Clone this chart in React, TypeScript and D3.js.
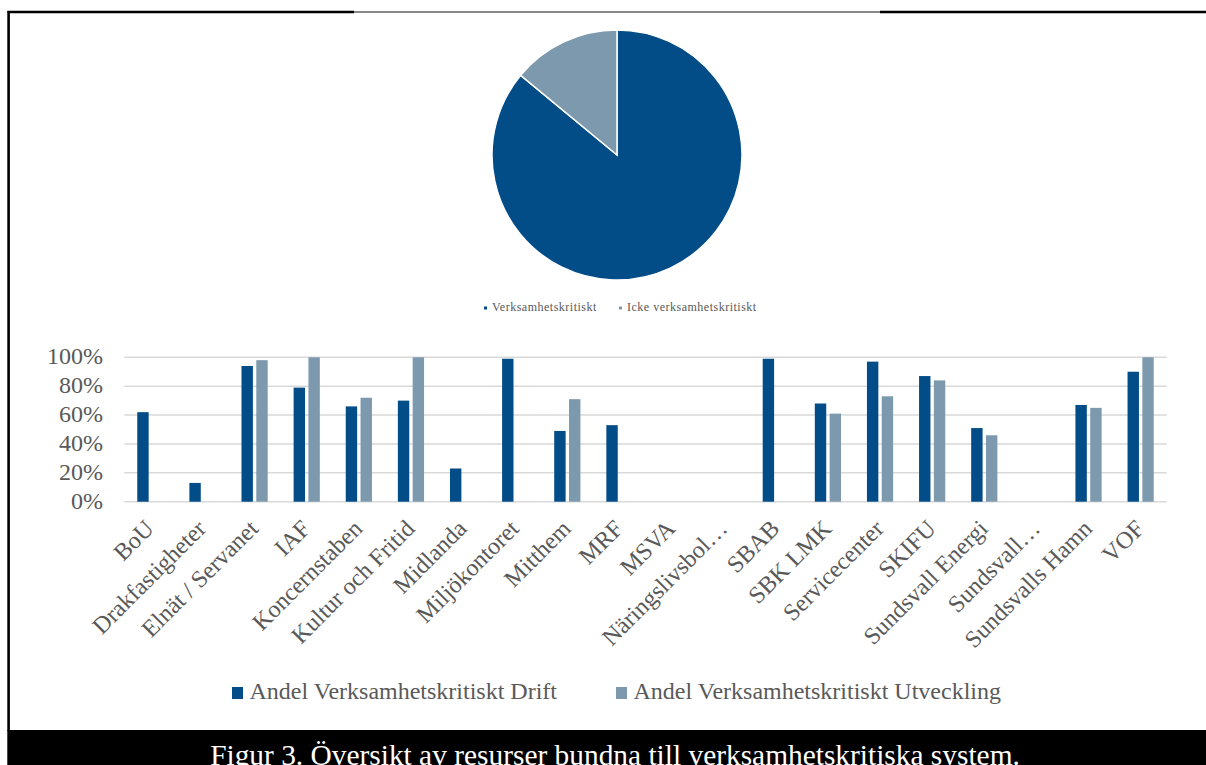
import React from "react";
import * as d3 from "d3";

// Pie: share of systems
const pieLabels = ["Verksamhetskritiskt", "Icke verksamhetskritiskt"];
const pieValues = [86, 14];

// Grouped bars: share per organisation
const categories = [
  "BoU",
  "Drakfastigheter",
  "Elnät / Servanet",
  "IAF",
  "Koncernstaben",
  "Kultur och Fritid",
  "Midlanda",
  "Miljökontoret",
  "Mitthem",
  "MRF",
  "MSVA",
  "Näringslivsbol…",
  "SBAB",
  "SBK LMK",
  "Servicecenter",
  "SKIFU",
  "Sundsvall Energi",
  "Sundsvall…",
  "Sundsvalls Hamn",
  "VOF",
];
const seriesNames = [
  "Andel Verksamhetskritiskt Drift",
  "Andel Verksamhetskritiskt Utveckling",
];
const drift: (number | null)[] = [
  62, 13, 94, 79, 66, 70, 23, 99, 49, 53, null, null, 99, 68, 97, 87, 51, null, 67, 90,
];
const utveckling: (number | null)[] = [
  null, null, 98, 100, 72, 100, null, null, 71, null, null, null, null, 61, 73, 84, 46, null, 65, 100,
];
const yTicks = [0, 20, 40, 60, 80, 100];
const caption = "Figur 3. Översikt av resurser bundna till verksamhetskritiska system.";

const DARK = "#024c88";
const LIGHT = "#7c99ae";
const TEXT = "#595959";
const SERIF = "'Liberation Serif', 'Times New Roman', serif";

export default function App() {
  const W = 1206;
  const H = 765;

  // pie geometry
  const cx = 617;
  const cy = 155;
  const r = 125;
  const pie = d3.pie<number>().sort(null).value((d) => d)(pieValues);
  const arc = d3.arc<d3.PieArcDatum<number>>().innerRadius(0).outerRadius(r);

  // bar chart geometry
  const plotLeft = 124.3;
  const plotRight = 1166.7;
  const yTop = 357.3;
  const yBottom = 501.7;
  const x = d3.scaleBand<string>().domain(categories).range([plotLeft, plotRight]);
  const bw = x.bandwidth();
  const xs = d3
    .scaleBand<string>()
    .domain(seriesNames)
    .range([bw / 2 - 13.1, bw / 2 + 13.1])
    .paddingInner(0.23);
  const y = d3.scaleLinear().domain([0, 100]).range([yBottom, yTop]);
  const seriesValues = [drift, utveckling];
  const seriesColors = [DARK, LIGHT];

  return (
    <svg
      width={W}
      height={H}
      style={{ position: "absolute", left: 0, top: 0, display: "block", background: "#fff" }}
      fontFamily={SERIF}
    >
      {/* frame */}
      <line x1={7.5} y1={12} x2={354} y2={12} stroke="#000" strokeWidth={2.4} />
      <line x1={354} y1={12} x2={880} y2={12} stroke="#111" strokeWidth={1} />
      <line x1={880} y1={12} x2={W} y2={12} stroke="#000" strokeWidth={2.4} />
      <line x1={8.6} y1={11} x2={8.6} y2={731} stroke="#000" strokeWidth={2.6} />

      {/* pie */}
      <g transform={`translate(${cx},${cy})`}>
        {pie.map((d, i) => (
          <path key={i} d={arc(d) || ""} fill={seriesColors[i]} stroke="#fff" strokeWidth={1.5} />
        ))}
      </g>
      {/* pie legend */}
      {pieLabels.map((lab, i) => {
        const lx = i === 0 ? 484 : 619;
        return (
          <g key={lab}>
            <rect x={lx} y={306.5} width={3} height={3} fill={seriesColors[i]} />
            <text x={lx + 8} y={311} fontSize={12} letterSpacing={0.5} fill={TEXT}>
              {lab}
            </text>
          </g>
        );
      })}

      {/* gridlines */}
      {yTicks.map((t) => (
        <line
          key={t}
          x1={plotLeft}
          x2={plotRight}
          y1={y(t)}
          y2={y(t)}
          stroke="#d9d9d9"
          strokeWidth={1.6}
        />
      ))}
      {/* y labels */}
      {yTicks.map((t) => (
        <text key={t} x={103} y={y(t) + 7} textAnchor="end" fontSize={24} fill={TEXT}>
          {`${t}%`}
        </text>
      ))}

      {/* bars */}
      {categories.map((c, ci) =>
        seriesValues.map((vals, si) => {
          const v = vals[ci];
          if (v == null) return null;
          return (
            <rect
              key={`${c}-${si}`}
              x={(x(c) as number) + (xs(seriesNames[si]) as number)}
              y={y(v)}
              width={xs.bandwidth()}
              height={yBottom - y(v)}
              fill={seriesColors[si]}
            />
          );
        })
      )}

      {/* x labels */}
      {categories.map((c) => {
        const px = (x(c) as number) + bw / 2 + 5;
        const py = 530;
        return (
          <text
            key={c}
            transform={`translate(${px},${py}) rotate(-45)`}
            textAnchor="end"
            fontSize={24}
            fill={TEXT}
          >
            {c}
          </text>
        );
      })}

      {/* bar legend */}
      {seriesNames.map((s, i) => {
        const lx = i === 0 ? 232 : 616;
        return (
          <g key={s}>
            <rect x={lx} y={687} width={11} height={12} fill={seriesColors[i]} />
            <text x={lx + 17.5} y={699.3} fontSize={24} fill={TEXT}>
              {s}
            </text>
          </g>
        );
      })}

      {/* caption bar */}
      <rect x={7.3} y={730} width={W - 7.3} height={H - 730} fill="#000" />
      <text x={615} y={765} textAnchor="middle" fontSize={29.4} fill="#fff">
        {caption}
      </text>
    </svg>
  );
}
